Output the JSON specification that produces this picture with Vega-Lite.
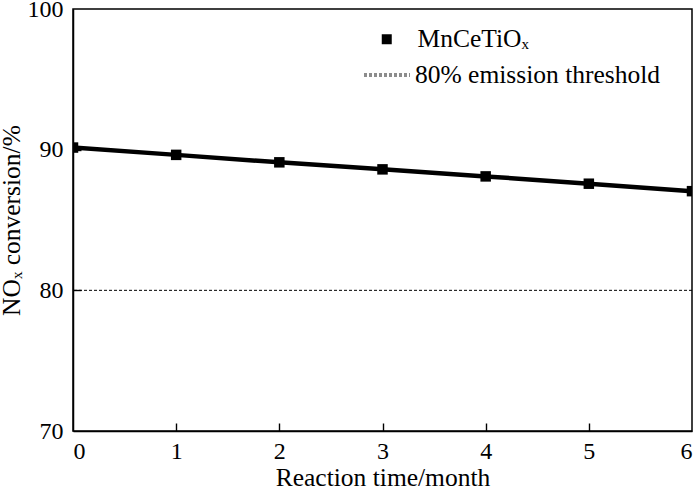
{
  "$schema": "https://vega.github.io/schema/vega-lite/v6.json",
  "width": 619,
  "height": 422,
  "autosize": {"type": "none"},
  "padding": {"left": 73, "top": 9, "right": 8, "bottom": 57},
  "background": "white",
  "config": {
    "font": "Liberation Serif",
    "view": {"stroke": "black", "strokeWidth": 1.5},
    "axis": {
      "domainColor": "black",
      "domainWidth": 1.5,
      "tickColor": "black",
      "tickWidth": 1.4,
      "tickSize": 8,
      "labelFont": "Liberation Serif",
      "labelFontSize": 24,
      "labelColor": "black",
      "titleFont": "Liberation Serif",
      "titleFontSize": 25.5,
      "titleFontWeight": "normal",
      "titleColor": "black",
      "grid": false
    },
    "legend": {
      "labelFont": "Liberation Serif",
      "labelFontSize": 25.5,
      "labelColor": "black",
      "labelLimit": 0,
      "padding": 0
    }
  },
  "datasets": {
    "conversion": [
      {"month": 0, "nox": 90.15, "catalyst": "MnCeTiOₓ"},
      {"month": 1, "nox": 89.63, "catalyst": "MnCeTiOₓ"},
      {"month": 2, "nox": 89.1, "catalyst": "MnCeTiOₓ"},
      {"month": 3, "nox": 88.6, "catalyst": "MnCeTiOₓ"},
      {"month": 4, "nox": 88.1, "catalyst": "MnCeTiOₓ"},
      {"month": 5, "nox": 87.58, "catalyst": "MnCeTiOₓ"},
      {"month": 6, "nox": 87.05, "catalyst": "MnCeTiOₓ"}
    ],
    "threshold": [
      {"nox": 80, "ref": "80% emission threshold"}
    ]
  },
  "resolve": {"axis": {"x": "independent", "y": "independent"}},
  "layer": [
    {
      "data": {"name": "conversion"},
      "mark": {"type": "line", "color": "black", "strokeWidth": 4.5, "clip": true},
      "encoding": {
        "x": {
          "field": "month",
          "type": "quantitative",
          "scale": {"domain": [0, 6], "nice": false},
          "axis": {
            "orient": "bottom",
            "values": [0, 1, 2, 3, 4, 5, 6],
            "format": "d",
            "ticks": false,
            "title": "Reaction time/month",
            "labelPadding": 8,
            "titleY": 54,
            "titleBaseline": "alphabetic"
          }
        },
        "y": {
          "field": "nox",
          "type": "quantitative",
          "scale": {"domain": [70, 100], "nice": false, "zero": false},
          "axis": {
            "orient": "left",
            "values": [70, 80, 90, 100],
            "ticks": false,
            "title": "NOₓ conversion/%",
            "labelPadding": 10,
            "titleX": -54,
            "titleBaseline": "alphabetic"
          }
        }
      }
    },
    {
      "data": {"name": "conversion"},
      "mark": {"type": "point", "shape": "square", "filled": true, "size": 110, "opacity": 1, "clip": true},
      "encoding": {
        "x": {
          "field": "month",
          "type": "quantitative",
          "axis": {
            "orient": "top",
            "offset": -422,
            "values": [1, 2, 3, 4, 5],
            "labels": false,
            "domain": false,
            "title": null
          }
        },
        "y": {
          "field": "nox",
          "type": "quantitative",
          "axis": {
            "orient": "right",
            "offset": -619,
            "values": [80, 90],
            "labels": false,
            "domain": false,
            "title": null
          }
        },
        "color": {
          "field": "catalyst",
          "type": "nominal",
          "scale": {"range": ["black"]},
          "legend": {
            "title": null,
            "orient": "none",
            "legendX": 301,
            "legendY": 17.5,
            "symbolType": "square",
            "symbolSize": 100,
            "labelOffset": 18
          }
        }
      }
    },
    {
      "data": {"name": "threshold"},
      "mark": {"type": "rule", "color": "black", "strokeWidth": 1},
      "encoding": {
        "y": {"field": "nox", "type": "quantitative", "axis": null},
        "strokeDash": {
          "field": "ref",
          "type": "nominal",
          "scale": {"range": [[3, 2]]},
          "legend": {
            "title": null,
            "orient": "none",
            "legendX": 289,
            "legendY": 41,
            "symbolType": "stroke",
            "symbolSize": 2116,
            "symbolStrokeColor": "#8c8c8c",
            "symbolStrokeWidth": 4,
            "labelOffset": 3
          }
        }
      }
    }
  ]
}
